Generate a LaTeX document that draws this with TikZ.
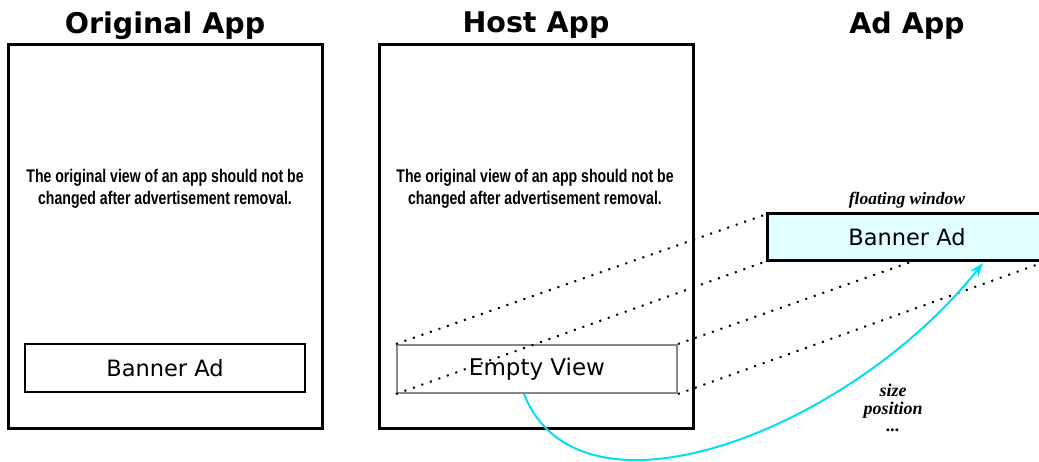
\documentclass[tikz,border=0pt]{standalone}
\usepackage{fontspec}
\usetikzlibrary{arrows.meta}
\newfontfamily\headfont{DejaVu Sans}
\newfontfamily\narrowfont{Liberation Sans}[FakeStretch=0.77]
\newfontfamily\notefont{Liberation Serif}
\definecolor{linkcyan}{RGB}{0,225,240}
\definecolor{floatfill}{RGB}{226,255,255}
\definecolor{viewgray}{RGB}{135,135,135}
\tikzset{
  apptitle/.style={font=\headfont\bfseries\fontsize{28.5}{33}\selectfont},
  appframe/.style={draw=black, line width=3pt, minimum width=314pt, minimum height=383pt, inner sep=0pt},
  note/.style={font=\narrowfont\bfseries\fontsize{18.3}{22}\selectfont, align=center},
  adbox/.style={draw=black, line width=2.6pt, minimum width=280pt, minimum height=48pt, inner sep=0pt,
    font=\headfont\fontsize{22.5}{26}\selectfont},
  emptybox/.style={draw=viewgray, line width=2pt, minimum width=280pt, minimum height=48pt, inner sep=0pt,
    font=\headfont\fontsize{23}{26}\selectfont},
  floatbox/.style={draw=black, line width=3pt, fill=floatfill, minimum width=280pt, minimum height=47pt, inner sep=0pt,
    font=\headfont\fontsize{22.5}{26}\selectfont},
  caption/.style={font=\notefont\bfseries\itshape\fontsize{17.5}{19}\selectfont, align=center},
  attrtext/.style={font=\notefont\bfseries\itshape\fontsize{18}{19}\selectfont, align=center},
  projection/.style={line width=2pt, dash pattern=on 2pt off 7pt},
  link/.style={draw=linkcyan, line width=2pt, -{Stealth[length=14pt, width=10pt]}}
}
\begin{document}
\begin{tikzpicture}[x=1pt, y=-1pt]
  \useasboundingbox (0,0) rectangle (1039,462);
  \clip (0,0) rectangle (1039,462);

  % column titles
  \node[apptitle] (t1) at (165,25.5) {Original App};
  \node[apptitle] (t2) at (536,25.5) {Host App};
  \node[apptitle] (t3) at (907,25.5) {Ad App};

  % phone frames
  \node[appframe] (orig) at (165,236.5) {};
  \node[appframe] (host) at (536.5,236.5) {};

  % explanatory text
  \node[note] (n1) at (165,189) {The original view of an app should not be\\changed after advertisement removal.};
  \node[note] (n2) at (535,189) {The original view of an app should not be\\changed after advertisement removal.};

  % ad views
  \node[adbox] (banner) at (165,368) {Banner Ad};
  \node[emptybox] (empty) at (537,369) {Empty View};
  \coordinate (fnw) at (767,214);
  \coordinate (fsw) at (767,261);
  \coordinate (fne) at (1047,214);
  \coordinate (fse) at (1047,261);

  % projection of the empty view onto the floating window
  \draw[projection] (empty.north west) -- (fnw);
  \draw[projection] (empty.south west) -- (fsw);
  \draw[projection] (empty.north east) -- (fne);
  \draw[projection] (empty.south east) -- (fse);

  % floating window, drawn over the projection lines
  \node[floatbox] (float) at (907,237.5) {Banner Ad};
  \node[caption, anchor=base] (fw) at (907,205) {floating window};

  % synchronised attributes
  \node[attrtext] (attrs) at (893,408) {size\\[-1pt]position\\[-2pt]...};

  % link from the empty view to the floating window
  \coordinate (src) at (524,394);
  \coordinate (dst) at (983,263);
  \draw[link] (src) .. controls (580,535) and (850,430) .. (dst);
\end{tikzpicture}
\end{document}
